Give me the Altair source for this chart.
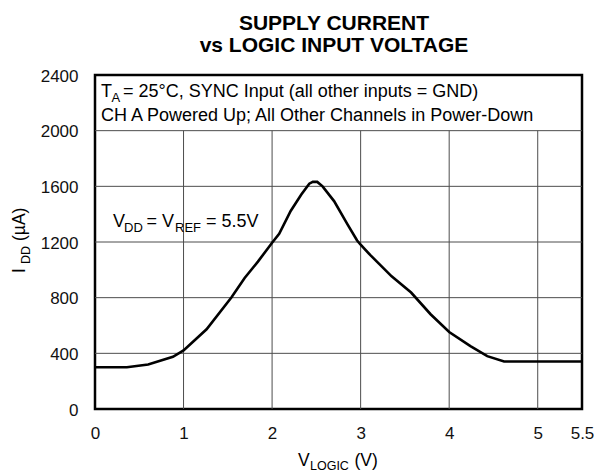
import altair as alt
import pandas as pd

FONT = "Liberation Sans"

# Curve: supply current vs logic input voltage
v_logic = [0.0, 0.36, 0.6, 0.88, 1.0, 1.26, 1.54, 1.69, 1.84, 2.0, 2.08, 2.21, 2.33,
           2.42, 2.46, 2.51, 2.57, 2.70, 2.85, 2.96, 3.0, 3.11, 3.26, 3.35, 3.57,
           3.79, 4.0, 4.24, 4.43, 4.62, 5.5]
i_dd = [300, 300, 320, 375, 421, 573, 801, 941, 1059, 1195, 1259, 1423, 1541,
        1619, 1632, 1632, 1600, 1494, 1329, 1211, 1181, 1105, 1011, 953, 837,
        681, 553, 452, 380, 341, 341]

x_ticks = [0, 1, 2, 3, 4, 5, 5.5]
y_ticks = [0, 400, 800, 1200, 1600, 2000, 2400]
v_grid = [1, 2, 3, 4, 5]
h_grid = [400, 800, 1200, 1600, 2000]
grid_top = 2000

title_lines = ["SUPPLY CURRENT", "vs LOGIC INPUT VOLTAGE"]
note_line1 = ["T", "A", "= 25°C, SYNC Input (all other inputs = GND)"]
note_line2 = "CH A Powered Up; All Other Channels in Power-Down"
vdd_parts = ["V", "DD", "= V", "REF", "= 5.5V"]
xtitle_parts = ["V", "LOGIC", "(V)"]
ytitle_parts = ["I", "DD", "(µA)"]

W, H = 487, 334
xs = alt.Scale(domain=[0, 5.5], nice=False, zero=False)
ys = alt.Scale(domain=[0, 2400], nice=False, zero=False)

curve_df = pd.DataFrame({"v": v_logic, "i": i_dd})
vg_df = pd.DataFrame({"v": v_grid, "lo": [0] * len(v_grid), "hi": [grid_top] * len(v_grid)})
hg_df = pd.DataFrame({"i": h_grid, "lo": [0] * len(h_grid), "hi": [5.5] * len(h_grid)})

GRID = "#4d4d4d"

vgrid = alt.Chart(vg_df).mark_rule(color=GRID, strokeWidth=1).encode(
    x=alt.X("v:Q", scale=xs),
    y=alt.Y("lo:Q", scale=ys),
    y2="hi:Q",
)
hgrid = alt.Chart(hg_df).mark_rule(color=GRID, strokeWidth=1).encode(
    y=alt.Y("i:Q", scale=ys),
    x=alt.X("lo:Q", scale=xs),
    x2="hi:Q",
)

line = alt.Chart(curve_df).mark_line(color="black", strokeWidth=2.6).encode(
    x=alt.X("v:Q", scale=xs,
            axis=alt.Axis(values=x_ticks, format="~g", grid=False, ticks=False, domain=False,
                          title=None, labelFlush=False, labelOverlap=False,
                          labelPadding=29, labelBaseline="alphabetic",
                          labelFontSize=17, labelFont=FONT, labelColor="#111")),
    y=alt.Y("i:Q", scale=ys,
            axis=alt.Axis(values=y_ticks, format="d", grid=False, ticks=False, domain=False,
                          title=None, labelFlush=False, labelOverlap=False,
                          labelPadding=17, labelOffset=1,
                          labelFontSize=17, labelFont=FONT, labelColor="#111")),
)


def txt(label, x, y, size, bold=False, angle=0, align="left"):
    return alt.Chart(pd.DataFrame({"label": [label]})).mark_text(
        align=align, baseline="alphabetic", fontSize=size,
        fontWeight="bold" if bold else "normal", font=FONT, angle=angle, color="black",
    ).encode(x=alt.value(x), y=alt.value(y), text="label:N")


texts = [
    txt(title_lines[0], 239, -45, 21, bold=True, align="center"),
    txt(title_lines[1], 239, -23, 21, bold=True, align="center"),
    txt(note_line1[0], 6, 22, 18),
    txt(note_line1[1], 16.5, 27, 13),
    txt(note_line1[2], 28, 22, 18),
    txt(note_line2, 6, 46, 18),
    txt(vdd_parts[0], 18, 152, 18),
    txt(vdd_parts[1], 29, 157, 13),
    txt(vdd_parts[2], 51.5, 152, 18),
    txt(vdd_parts[3], 80, 157, 13),
    txt(vdd_parts[4], 111, 152, 18),
    txt(xtitle_parts[0], 203, 390.5, 17.5),
    txt(xtitle_parts[1], 215, 394.5, 12.5),
    txt(xtitle_parts[2], 259.5, 390.5, 17.5),
    txt(ytitle_parts[0], -70, 198, 17.5, angle=270),
    txt(ytitle_parts[1], -65, 189, 12.5, angle=270),
    txt(ytitle_parts[2], -70, 166, 17.5, angle=270),
]

chart = alt.layer(vgrid, hgrid, line, *texts).properties(
    width=W, height=H,
    autosize=alt.AutoSizeParams(type="none"),
    padding={"left": 87, "top": 67, "right": 12, "bottom": 62},
    background="white",
).configure_view(stroke="black", strokeWidth=2.5)

chart.save("out.html", embed_options={"renderer": "svg", "actions": False})
